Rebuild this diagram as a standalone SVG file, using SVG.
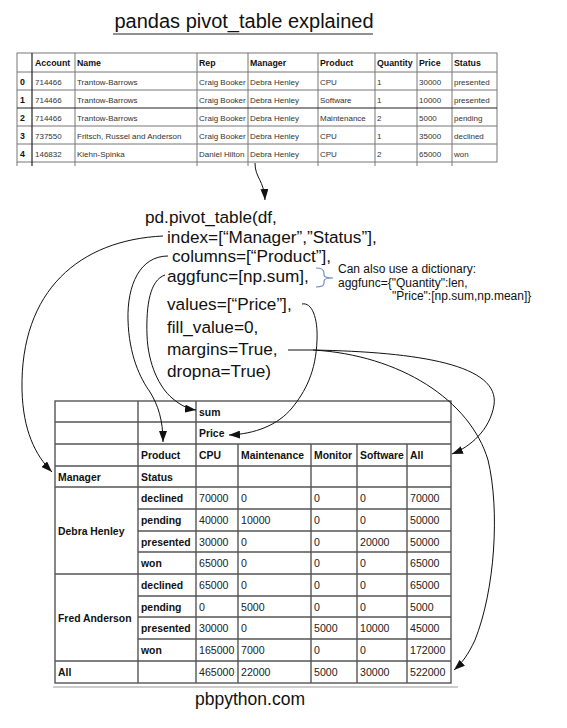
<svg xmlns="http://www.w3.org/2000/svg" width="567" height="728" viewBox="0 0 567 728">
<style>
text{font-family:"Liberation Sans",Arial,sans-serif;}
.title{font-size:20px;fill:#111;}
.code{font-size:17.2px;fill:#111;}
.note{font-size:12px;fill:#111;}
.th{font-size:8.8px;font-weight:bold;fill:#111;}
.td{font-size:8px;fill:#333;}
.rh{font-size:10.4px;font-weight:bold;fill:#111;}
.rd{font-size:10.6px;fill:#222;}
.grid{stroke:#777;stroke-width:1;fill:none;}
.gridd{stroke:#222;stroke-width:1.2;fill:none;}
.rgrid{stroke:#555;stroke-width:1.4;fill:none;}
.conn{stroke:#111;stroke-width:1;fill:none;marker-end:url(#arr);}
.plain{stroke:#111;stroke-width:1;fill:none;}
.foot{font-size:17.5px;fill:#111;}
</style>
<defs>
<marker id="arr" markerWidth="11" markerHeight="8" refX="11" refY="4" orient="auto" markerUnits="userSpaceOnUse">
<path d="M0,0 L11,4 L0,8 z" fill="#111"/>
</marker>
</defs>
<rect width="567" height="728" fill="#fff"/>

<g id="title">
<text class="title" x="244" y="28" text-anchor="middle">pandas pivot_table explained</text>
<line x1="113" y1="34" x2="373" y2="34" stroke="#222" stroke-width="1"/>
</g>

<g id="source-table">
<g class="grid">
<rect x="17" y="53" width="480" height="109"/>
<line x1="17" y1="72" x2="497" y2="72"/>
<line x1="17" y1="90" x2="497" y2="90"/>
<line x1="17" y1="126" x2="497" y2="126"/>
<line x1="17" y1="144" x2="497" y2="144"/>
<line x1="75" y1="53" x2="75" y2="166"/>
<line x1="197" y1="53" x2="197" y2="166"/>
<line x1="248" y1="53" x2="248" y2="166"/>
<line x1="318" y1="53" x2="318" y2="166"/>
<line x1="375" y1="53" x2="375" y2="166"/>
<line x1="417" y1="53" x2="417" y2="166"/>
<line x1="452" y1="53" x2="452" y2="166"/>
<line x1="17" y1="162" x2="17" y2="166"/>
</g>
<g class="gridd">
<line x1="17" y1="108" x2="497" y2="108"/>
<line x1="32" y1="53" x2="32" y2="166"/>
</g>
<text class="th" x="35" y="66">Account</text>
<text class="th" x="77" y="66">Name</text>
<text class="th" x="199" y="66">Rep</text>
<text class="th" x="250" y="66">Manager</text>
<text class="th" x="320" y="66">Product</text>
<text class="th" x="377" y="66">Quantity</text>
<text class="th" x="419" y="66">Price</text>
<text class="th" x="454" y="66">Status</text>

<text class="th" x="20" y="85">0</text>
<text class="td" x="35" y="85">714466</text>
<text class="td" x="77" y="85">Trantow-Barrows</text>
<text class="td" x="199" y="85">Craig Booker</text>
<text class="td" x="250" y="85">Debra Henley</text>
<text class="td" x="320" y="85">CPU</text>
<text class="td" x="377" y="85">1</text>
<text class="td" x="419" y="85">30000</text>
<text class="td" x="454" y="85">presented</text>

<text class="th" x="20" y="103">1</text>
<text class="td" x="35" y="103">714466</text>
<text class="td" x="77" y="103">Trantow-Barrows</text>
<text class="td" x="199" y="103">Craig Booker</text>
<text class="td" x="250" y="103">Debra Henley</text>
<text class="td" x="320" y="103">Software</text>
<text class="td" x="377" y="103">1</text>
<text class="td" x="419" y="103">10000</text>
<text class="td" x="454" y="103">presented</text>

<text class="th" x="20" y="121">2</text>
<text class="td" x="35" y="121">714466</text>
<text class="td" x="77" y="121">Trantow-Barrows</text>
<text class="td" x="199" y="121">Craig Booker</text>
<text class="td" x="250" y="121">Debra Henley</text>
<text class="td" x="320" y="121">Maintenance</text>
<text class="td" x="377" y="121">2</text>
<text class="td" x="419" y="121">5000</text>
<text class="td" x="454" y="121">pending</text>

<text class="th" x="20" y="139">3</text>
<text class="td" x="35" y="139">737550</text>
<text class="td" x="77" y="139">Fritsch, Russel and Anderson</text>
<text class="td" x="199" y="139">Craig Booker</text>
<text class="td" x="250" y="139">Debra Henley</text>
<text class="td" x="320" y="139">CPU</text>
<text class="td" x="377" y="139">1</text>
<text class="td" x="419" y="139">35000</text>
<text class="td" x="454" y="139">declined</text>

<text class="th" x="20" y="157">4</text>
<text class="td" x="35" y="157">146832</text>
<text class="td" x="77" y="157">Kiehn-Spinka</text>
<text class="td" x="199" y="157">Daniel Hilton</text>
<text class="td" x="250" y="157">Debra Henley</text>
<text class="td" x="320" y="157">CPU</text>
<text class="td" x="377" y="157">2</text>
<text class="td" x="419" y="157">65000</text>
<text class="td" x="454" y="157">won</text>
</g>

<g id="code">
<text class="code" x="145" y="223">pd.pivot_table(df,</text>
<text class="code" x="167" y="242.5">index=[“Manager”,”Status”],</text>
<text class="code" x="172" y="262">columns=[“Product”],</text>
<text class="code" x="167" y="281.5">aggfunc=[np.sum],</text>
<text class="code" x="167" y="310">values=[“Price”],</text>
<text class="code" x="167" y="333">fill_value=0,</text>
<text class="code" x="167" y="355">margins=True,</text>
<text class="code" x="167" y="377">dropna=True)</text>
</g>

<g id="note">
<path d="M316,268 C322,268 324,270 324,273 L324,275 C324,277 327,278 333,278 C327,278 324,279 324,281 L324,283 C324,286 322,287 316,287" fill="none" stroke="#6d8fc4" stroke-width="1.2"/>
<text class="note" x="338" y="273">Can also use a dictionary:</text>
<text class="note" x="338" y="287">aggfunc={"Quantity":len,</text>
<text class="note" x="392" y="300">"Price":[np.sum,np.mean]}</text>
</g>

<g id="result-table">
<g class="rgrid">
<rect x="55" y="401" width="396" height="282"/>
<line x1="55" y1="422" x2="451" y2="422"/>
<line x1="55" y1="444" x2="451" y2="444"/>
<line x1="55" y1="466" x2="451" y2="466"/>
<line x1="55" y1="487" x2="451" y2="487"/>
<line x1="55" y1="574" x2="451" y2="574"/>
<line x1="55" y1="661" x2="451" y2="661"/>
<line x1="138" y1="509" x2="451" y2="509"/>
<line x1="138" y1="531" x2="451" y2="531"/>
<line x1="138" y1="552" x2="451" y2="552"/>
<line x1="138" y1="596" x2="451" y2="596"/>
<line x1="138" y1="617" x2="451" y2="617"/>
<line x1="138" y1="639" x2="451" y2="639"/>
<line x1="138" y1="401" x2="138" y2="683"/>
<line x1="196" y1="401" x2="196" y2="683"/>
<line x1="238" y1="444" x2="238" y2="683"/>
<line x1="311" y1="444" x2="311" y2="683"/>
<line x1="357" y1="444" x2="357" y2="683"/>
<line x1="407" y1="444" x2="407" y2="683"/>
</g>
<text class="rh" x="199" y="416">sum</text>
<text class="rh" x="199" y="437">Price</text>
<text class="rh" x="141" y="459">Product</text>
<text class="rh" x="199" y="459">CPU</text>
<text class="rh" x="241" y="459">Maintenance</text>
<text class="rh" x="314" y="459">Monitor</text>
<text class="rh" x="360" y="459">Software</text>
<text class="rh" x="410" y="459">All</text>
<text class="rh" x="58" y="481">Manager</text>
<text class="rh" x="141" y="481">Status</text>

<text class="rh" x="58" y="535">Debra Henley</text>
<text class="rh" x="141" y="502">declined</text>
<text class="rd" x="199" y="502">70000</text><text class="rd" x="241" y="502">0</text><text class="rd" x="314" y="502">0</text><text class="rd" x="360" y="502">0</text><text class="rd" x="410" y="502">70000</text>
<text class="rh" x="141" y="524">pending</text>
<text class="rd" x="199" y="524">40000</text><text class="rd" x="241" y="524">10000</text><text class="rd" x="314" y="524">0</text><text class="rd" x="360" y="524">0</text><text class="rd" x="410" y="524">50000</text>
<text class="rh" x="141" y="546">presented</text>
<text class="rd" x="199" y="546">30000</text><text class="rd" x="241" y="546">0</text><text class="rd" x="314" y="546">0</text><text class="rd" x="360" y="546">20000</text><text class="rd" x="410" y="546">50000</text>
<text class="rh" x="141" y="567">won</text>
<text class="rd" x="199" y="567">65000</text><text class="rd" x="241" y="567">0</text><text class="rd" x="314" y="567">0</text><text class="rd" x="360" y="567">0</text><text class="rd" x="410" y="567">65000</text>

<text class="rh" x="58" y="622">Fred Anderson</text>
<text class="rh" x="141" y="589">declined</text>
<text class="rd" x="199" y="589">65000</text><text class="rd" x="241" y="589">0</text><text class="rd" x="314" y="589">0</text><text class="rd" x="360" y="589">0</text><text class="rd" x="410" y="589">65000</text>
<text class="rh" x="141" y="611">pending</text>
<text class="rd" x="199" y="611">0</text><text class="rd" x="241" y="611">5000</text><text class="rd" x="314" y="611">0</text><text class="rd" x="360" y="611">0</text><text class="rd" x="410" y="611">5000</text>
<text class="rh" x="141" y="632">presented</text>
<text class="rd" x="199" y="632">30000</text><text class="rd" x="241" y="632">0</text><text class="rd" x="314" y="632">5000</text><text class="rd" x="360" y="632">10000</text><text class="rd" x="410" y="632">45000</text>
<text class="rh" x="141" y="654">won</text>
<text class="rd" x="199" y="654">165000</text><text class="rd" x="241" y="654">7000</text><text class="rd" x="314" y="654">0</text><text class="rd" x="360" y="654">0</text><text class="rd" x="410" y="654">172000</text>

<text class="rh" x="58" y="676">All</text>
<text class="rd" x="199" y="676">465000</text><text class="rd" x="241" y="676">22000</text><text class="rd" x="314" y="676">5000</text><text class="rd" x="360" y="676">30000</text><text class="rd" x="410" y="676">522000</text>
</g>

<g id="footer">
<line x1="53" y1="687" x2="458" y2="687" stroke="#ccc" stroke-width="2"/>
<text class="foot" x="250" y="705" text-anchor="middle">pbpython.com</text>
</g>

<g id="connectors">
<path class="conn" d="M255,163 C255,178 264,180 265,200"/>
<path class="conn" d="M163,236 C80,240 20,290 22,390 C23,430 35,455 52,472"/>
<path class="conn" d="M168,256 C140,256 127,285 128,320 C129,355 140,378 150,392 C158,405 163,420 163,442"/>
<path class="conn" d="M165,275 C150,280 146,305 147,335 C148,365 160,388 172,398 C180,405 188,409 196,410"/>
<path class="conn" d="M302,304 C312,302 318,318 317,340 C316,372 305,392 292,408 C278,425 255,434 229,435"/>
<path class="plain" d="M288,350 L313,350"/>
<path class="conn" d="M313,350 C420,352 500,365 494,405 C490,430 470,447 452,454"/>
<path class="conn" d="M313,350 C400,355 470,400 488,460 C500,510 495,590 475,640 C468,655 462,663 454,670"/>
</g>
</svg>
